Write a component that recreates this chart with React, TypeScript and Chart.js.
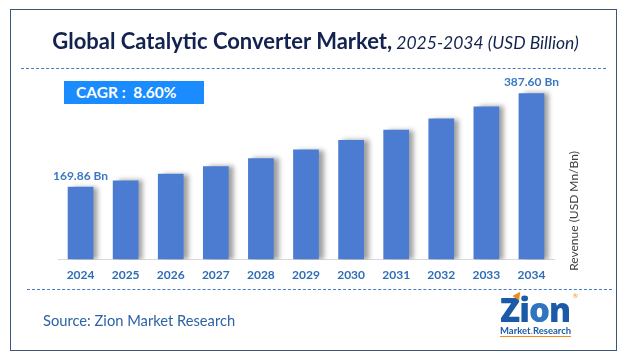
import React, { useEffect, useRef } from "react";
import { Chart, registerables } from "chart.js";

Chart.register(...registerables);

const years = ["2024", "2025", "2026", "2027", "2028", "2029", "2030", "2031", "2032", "2033", "2034"];
const revenue = [169.86, 184.5, 200.3, 217.6, 236.3, 256.6, 278.7, 302.6, 328.7, 356.9, 387.6];
const valueLabels = ["169.86 Bn", "", "", "", "", "", "", "", "", "", "387.60 Bn"];
const titleMain = "Global Catalytic Converter Market,";
const titleSub = "2025-2034 (USD Billion)";
const cagrText = "CAGR :  8.60%";
const yTitle = "Revenue (USD Mn/Bn)";
const sourceText = "Source: Zion Market Research";

const FONT = "Lato, 'Open Sans', sans-serif";

const decorPlugin = {
  id: "decor",
  beforeDatasetDraw(chart: any) {
    const ctx = chart.ctx;
    ctx.save();
    ctx.shadowColor = "rgba(0,0,0,0.38)";
    ctx.shadowBlur = 5;
    ctx.shadowOffsetX = 5;
    ctx.shadowOffsetY = 0;
  },
  afterDatasetDraw(chart: any) {
    chart.ctx.restore();
  },
  afterDraw(chart: any) {
    const ctx = chart.ctx;
    const meta = chart.getDatasetMeta(0);
    ctx.save();
    ctx.font = `bold 12px ${FONT}`;
    ctx.fillStyle = "#3a78c2";
    ctx.textAlign = "center";
    ctx.textBaseline = "middle";
    meta.data.forEach((bar: any, i: number) => {
      const t = valueLabels[i];
      if (t) ctx.fillText(t, bar.x, bar.y - 11);
    });
    // right-side axis title
    ctx.translate(574, 211);
    ctx.rotate(-Math.PI / 2);
    ctx.font = `12px ${FONT}`;
    ctx.fillStyle = "#404040";
    ctx.fillText(yTitle, 0, 0);
    ctx.restore();
  },
};

export default function App() {
  const canvasRef = useRef<HTMLCanvasElement | null>(null);

  useEffect(() => {
    const canvas = canvasRef.current;
    if (!canvas) return;
    const chart = new Chart(canvas, {
      type: "bar",
      data: {
        labels: years,
        datasets: [
          {
            data: revenue,
            backgroundColor: "#4c7bd2",
            borderWidth: 0,
            categoryPercentage: 1,
            barPercentage: 0.57,
          },
        ],
      },
      options: {
        animation: false,
        responsive: false,
        devicePixelRatio: 1,
        layout: { padding: { left: 58, right: 77, top: 88, bottom: 73 } },
        plugins: {
          legend: { display: false },
          tooltip: { enabled: false },
          title: { display: false },
        },
        scales: {
          x: {
            grid: { display: false, drawTicks: false },
            border: { display: true, color: "#d9d9d9", width: 1 },
            ticks: {
              padding: 8,
              color: "#2f6db4",
              font: { family: FONT, size: 12, weight: "bold" },
            },
          },
          y: {
            display: false,
            min: 0,
            max: 400,
          },
        },
      },
      plugins: [decorPlugin],
    });
    return () => chart.destroy();
  }, []);

  return (
    <div
      style={{
        position: "absolute",
        left: 0,
        top: 0,
        width: 631,
        height: 363,
        background: "#ffffff",
        overflow: "hidden",
        fontFamily: FONT,
      }}
    >
      <canvas
        ref={canvasRef}
        width={631}
        height={363}
        style={{ position: "absolute", left: 0, top: 0, width: 631, height: 363 }}
      />
      {/* frame */}
      <div
        style={{
          position: "absolute",
          left: 10,
          top: 9,
          width: 607,
          height: 342,
          border: "1px solid #3b5878",
          boxSizing: "border-box",
          pointerEvents: "none",
        }}
      />
      {/* title */}
      <div
        style={{
          position: "absolute",
          left: 0,
          width: 631,
          top: 27,
          textAlign: "center",
          whiteSpace: "nowrap",
          color: "#13224f",
          lineHeight: "28px",
        }}
      >
        <span style={{ fontWeight: 700, fontSize: 22 }}>{titleMain}</span>
        <span style={{ fontStyle: "italic", fontSize: 17.5 }}> {titleSub}</span>
      </div>
      {/* dashed lines */}
      <div
        style={{
          position: "absolute",
          left: 21,
          top: 68,
          width: 585,
          height: 0,
          borderTop: "1px dashed #4a7cc4",
        }}
      />
      <div
        style={{
          position: "absolute",
          left: 27,
          top: 289,
          width: 585,
          height: 0,
          borderTop: "1px dashed #4a7cc4",
        }}
      />
      {/* CAGR box */}
      <div
        style={{
          position: "absolute",
          left: 64,
          top: 81,
          width: 140,
          height: 23,
          background: "#1a8cff",
          color: "#ffffff",
          fontWeight: 700,
          fontSize: 15.5,
          lineHeight: "23px",
          paddingLeft: 12,
          boxSizing: "border-box",
          whiteSpace: "pre",
        }}
      >
        {cagrText}
      </div>
      {/* source */}
      <div
        style={{
          position: "absolute",
          left: 43,
          top: 311,
          fontSize: 14.7,
          lineHeight: "18px",
          color: "#2d62a6",
          whiteSpace: "nowrap",
        }}
      >
        {sourceText}
      </div>
      {/* logo */}
      <div
        style={{
          position: "absolute",
          left: 500,
          top: 293,
          width: 78,
          height: 44,
        }}
      >
        <div
          style={{
            position: "absolute",
            left: 0,
            top: 0,
            fontSize: 33,
            lineHeight: "34px",
            fontWeight: 900,
            color: "#1b5aa6",
            letterSpacing: -1,
            fontFamily: "'Open Sans', Lato, sans-serif",
          }}
        >
          Z<span style={{ color: "#1b5aa6" }}>i</span>
          <span style={{ color: "#2f74c0" }}>o</span>n
        </div>
        <div
          style={{
            position: "absolute",
            left: 14,
            top: -2,
            width: 0,
            height: 0,
            borderLeft: "4px solid transparent",
            borderRight: "4px solid transparent",
            borderBottom: "8px solid #f08a1c",
            transform: "rotate(35deg)",
          }}
        />
        <div
          style={{
            position: "absolute",
            left: 73,
            top: -1,
            fontSize: 6,
            color: "#f08a1c",
          }}
        >
          ®
        </div>
        <div
          style={{
            position: "absolute",
            left: 0,
            top: 32,
            fontSize: 9.5,
            fontWeight: 700,
            lineHeight: "11px",
            color: "#1b5aa6",
            whiteSpace: "nowrap",
            borderBottom: "1.5px solid #f08a1c",
          }}
        >
          Market<span style={{ color: "#f08a1c" }}>.</span>Research
        </div>
      </div>
    </div>
  );
}
